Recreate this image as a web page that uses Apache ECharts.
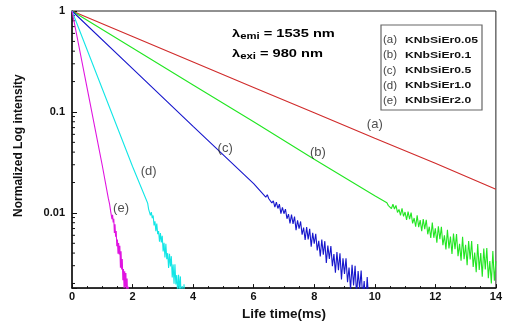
<!DOCTYPE html>
<html>
<head>
<meta charset="utf-8">
<script src="https://cdn.jsdelivr.net/npm/echarts@6/dist/echarts.min.js"></script>
<style>
html, body { margin: 0; padding: 0; background: #fff; }
#main { width: 505px; height: 326px; }
</style>
</head>
<body>
<div id="main"></div>
<script>
// decay curves, [time ms, normalized intensity]
var lineA = [[0, 1], [2, 0.56], [4, 0.313], [6, 0.175], [8, 0.098], [10, 0.055], [12, 0.031], [14, 0.0172]];

var lineB = [[0, 1], [2, 0.43], [4, 0.185], [6, 0.080], [8, 0.034], [10, 0.0148]];
// noisy tail of (b)
var tailB = [[10.40, 0.01259], [10.45, 0.01181], [10.50, 0.01232], [10.55, 0.01105], [10.60, 0.01218], [10.65, 0.01094],
  [10.70, 0.01188], [10.75, 0.01010], [10.80, 0.01083], [10.85, 0.00945], [10.90, 0.01112], [10.95, 0.00925],
  [11.00, 0.01021], [11.05, 0.00852], [11.10, 0.01030], [11.15, 0.00869], [11.20, 0.01008], [11.25, 0.00789],
  [11.30, 0.00890], [11.35, 0.00729], [11.40, 0.00945], [11.45, 0.00724], [11.50, 0.00848], [11.55, 0.00658],
  [11.60, 0.00870], [11.65, 0.00691], [11.70, 0.00856], [11.75, 0.00614], [11.80, 0.00730], [11.85, 0.00564],
  [11.90, 0.00804], [11.95, 0.00567], [12.00, 0.00704], [12.05, 0.00508], [12.10, 0.00737], [12.15, 0.00549],
  [12.20, 0.00728], [12.25, 0.00479], [12.30, 0.00601], [12.35, 0.00435], [12.40, 0.00682], [12.45, 0.00445],
  [12.50, 0.00584], [12.55, 0.00392], [12.60, 0.00623], [12.65, 0.00436], [12.70, 0.00619], [12.75, 0.00373],
  [12.80, 0.00493], [12.85, 0.00336], [12.90, 0.00579], [12.95, 0.00348], [13.00, 0.00484], [13.05, 0.00303],
  [13.10, 0.00527], [13.15, 0.00346], [13.20, 0.00526], [13.25, 0.00291], [13.30, 0.00406], [13.35, 0.00259],
  [13.40, 0.00493], [13.45, 0.00272], [13.50, 0.00401], [13.55, 0.00234], [13.60, 0.00445], [13.65, 0.00275],
  [13.70, 0.00448], [13.75, 0.00226], [13.80, 0.00333], [13.85, 0.00200], [13.90, 0.00419], [13.95, 0.00213],
  [14.00, 0.00333]];

var lineC = [[0, 1], [2, 0.269], [4, 0.072], [6, 0.0195]];
var tailC = [[6.40, 0.01432], [6.45, 0.01512], [6.50, 0.01381], [6.55, 0.01443], [6.60, 0.01257], [6.65, 0.01318],
  [6.70, 0.01143], [6.75, 0.01280], [6.80, 0.01107], [6.85, 0.01220], [6.90, 0.00985], [6.95, 0.01132],
  [7.00, 0.00982], [7.05, 0.01092], [7.10, 0.00876], [7.15, 0.00972], [7.20, 0.00786], [7.25, 0.00963],
  [7.30, 0.00778], [7.35, 0.00921], [7.40, 0.00676], [7.45, 0.00846], [7.50, 0.00697], [7.55, 0.00823],
  [7.60, 0.00610], [7.65, 0.00717], [7.70, 0.00539], [7.75, 0.00723], [7.80, 0.00547], [7.85, 0.00695],
  [7.90, 0.00464], [7.95, 0.00634], [8.00, 0.00495], [8.05, 0.00622], [8.10, 0.00425], [8.15, 0.00529],
  [8.20, 0.00370], [8.25, 0.00545], [8.30, 0.00385], [8.35, 0.00525], [8.40, 0.00319], [8.45, 0.00474],
  [8.50, 0.00351], [8.55, 0.00470], [8.60, 0.00296], [8.65, 0.00391], [8.70, 0.00255], [8.75, 0.00409],
  [8.80, 0.00271], [8.85, 0.00398], [8.90, 0.00219], [8.95, 0.00355], [9.00, 0.00249], [9.05, 0.00355],
  [9.10, 0.00206], [9.15, 0.00288], [9.20, 0.00175], [9.25, 0.00307], [9.30, 0.00191], [9.35, 0.00300],
  [9.40, 0.00151], [9.45, 0.00266], [9.50, 0.00177], [9.55, 0.00268], [9.60, 0.00144], [9.65, 0.00212],
  [9.70, 0.00120], [9.75, 0.00232], [9.80, 0.00134]];

var lineD = [[0, 1], [1, 0.17], [2, 0.0288]];
var tailD = [[2.50, 0.01245], [2.53, 0.01092], [2.56, 0.01095], [2.59, 0.00947], [2.62, 0.01020], [2.65, 0.00889],
  [2.68, 0.00942], [2.71, 0.00752], [2.74, 0.00824], [2.77, 0.00659], [2.80, 0.00784], [2.83, 0.00616],
  [2.86, 0.00661], [2.89, 0.00520], [2.92, 0.00633], [2.95, 0.00511], [2.98, 0.00594], [3.01, 0.00415],
  [3.04, 0.00505], [3.07, 0.00362], [3.10, 0.00494], [3.13, 0.00348], [3.16, 0.00399], [3.19, 0.00285],
  [3.22, 0.00393], [3.25, 0.00295], [3.28, 0.00373], [3.31, 0.00229], [3.34, 0.00309], [3.37, 0.00199],
  [3.40, 0.00310], [3.43, 0.00196], [3.46, 0.00242], [3.49, 0.00156], [3.52, 0.00244], [3.55, 0.00170],
  [3.58, 0.00235], [3.61, 0.00126], [3.64, 0.00189], [3.67, 0.00109], [3.70, 0.00196], [3.73, 0.00110],
  [3.76, 0.00145], [3.79, 0.00086]];

var lineE = [[0, 1], [0.5, 0.172], [1.0, 0.0295]];
var tailE = [[1.20, 0.01393], [1.22, 0.01437], [1.24, 0.01229], [1.26, 0.01252], [1.28, 0.01025], [1.30, 0.01063],
  [1.32, 0.00869], [1.34, 0.00960], [1.36, 0.00804], [1.38, 0.00876], [1.40, 0.00632], [1.42, 0.00773],
  [1.44, 0.00582], [1.46, 0.00662], [1.48, 0.00468], [1.50, 0.00544], [1.52, 0.00394], [1.54, 0.00504],
  [1.56, 0.00387], [1.58, 0.00472], [1.60, 0.00287], [1.62, 0.00416], [1.64, 0.00276], [1.66, 0.00350],
  [1.68, 0.00215], [1.70, 0.00278], [1.72, 0.00179], [1.74, 0.00264], [1.76, 0.00186], [1.78, 0.00254],
  [1.80, 0.00130], [1.82, 0.00224], [1.84, 0.00130], [1.86, 0.00186], [1.88, 0.00098]];

// curve tags
var curveTags = [[10.0, 0.0748, '(a)'], [8.12, 0.040, '(b)'], [5.06, 0.0437, '(c)'], [2.53, 0.0256, '(d)'], [1.62, 0.0112, '(e)']];

var legendNames = [['(a)', 'KNbSiEr0.05'], ['(b)', 'KNbSiEr0.1'], ['(c)', 'KNbSiEr0.5'], ['(d)', 'KNbSiEr1.0'], ['(e)', 'KNbSiEr2.0']];

var yMinorTicks = [0.002, 0.003, 0.004, 0.005, 0.006, 0.007, 0.008, 0.009,
  0.02, 0.03, 0.04, 0.05, 0.06, 0.07, 0.08, 0.09,
  0.2, 0.3, 0.4, 0.5, 0.6, 0.7, 0.8, 0.9];

var FONT = 'Arial, sans-serif';
var WIDE = 1.28; // the source figure is stretched sideways

var chart = echarts.init(document.getElementById('main'));

function decay(data, color) {
  return {
    type: 'line',
    data: data,
    symbol: 'none',
    lineStyle: { color: color, width: 1.1 },
    animation: false
  };
}

var legendTexts = [];
legendNames.forEach(function (n, i) {
  legendTexts.push({
    type: 'text', left: 383, top: 34 + i * 15.2,
    style: { text: n[0], font: '11.5px Arial, sans-serif', fill: '#444' }
  });
  legendTexts.push({
    type: 'text', left: 405, top: 35 + i * 15.2, scaleX: WIDE,
    style: { text: n[1], font: 'bold 9.5px Arial, sans-serif', fill: '#111' }
  });
});

function lambdaText(top, sub, rest) {
  return {
    type: 'text', left: 232, top: top, scaleX: 1.33,
    style: {
      text: '{l|λ}{s|' + sub + '}{l|' + rest + '}',
      rich: {
        l: { fontFamily: FONT, fontSize: 11, fontWeight: 'bold', color: '#111', lineHeight: 15 },
        s: { fontFamily: FONT, fontSize: 8.5, fontWeight: 'bold', color: '#111', verticalAlign: 'bottom', lineHeight: 15 }
      }
    }
  };
}

var option = {
  backgroundColor: '#fff',
  animation: false,
  grid: { left: 72, right: 2, top: 11, bottom: 31, show: true, borderColor: '#222', borderWidth: 1 },
  xAxis: {
    type: 'value',
    min: 0, max: 14, interval: 2,
    name: 'Life time(ms)',
    nameLocation: 'middle',
    nameGap: 16,
    nameTextStyle: { fontFamily: FONT, fontSize: 13.5, fontWeight: 'bold', color: '#111', verticalAlign: 'top' },
    axisLine: { lineStyle: { color: '#111', width: 1.5 } },
    axisTick: { inside: true, length: 4, lineStyle: { color: '#111' } },
    minorTick: { show: true, splitNumber: 4, length: 2, lineStyle: { color: '#111' } },
    axisLabel: { fontFamily: FONT, fontSize: 11, fontWeight: 'bold', color: '#111', margin: 3 },
    splitLine: { show: false }
  },
  yAxis: {
    type: 'log',
    logBase: 10,
    min: 0.0018, max: 1,
    name: 'Normalized Log intensity',
    nameLocation: 'middle',
    nameGap: 47,
    nameTextStyle: { fontFamily: FONT, fontSize: 12, fontWeight: 'bold', color: '#111', padding: [0, 0, 0, 8] },
    axisLine: { lineStyle: { color: '#111', width: 1.5 } },
    axisTick: { inside: true, length: 5, lineStyle: { color: '#111' } },
    axisLabel: {
      fontFamily: FONT, fontSize: 11, fontWeight: 'bold', color: '#111', margin: 7,
      formatter: function (v) {
        var l = Math.log10(v);
        return Math.abs(l - Math.round(l)) < 1e-6 ? String(+v.toPrecision(3)) : '';
      }
    },
    splitLine: { show: false }
  },
  graphic: [
    {
      type: 'rect',
      shape: { x: 381, y: 25, width: 101, height: 85 },
      style: { fill: '#fff', stroke: '#666', lineWidth: 1.2 }
    },
    lambdaText(28, 'emi', ' = 1535 nm'),
    lambdaText(48.5, 'exi', ' = 980 nm')
  ].concat(legendTexts),
  series: [
    decay(lineA, '#d02a2a'),
    decay(lineB.concat(tailB), '#22e622'),
    decay(lineC.concat(tailC), '#1616cc'),
    decay(lineD.concat(tailD), '#12e6e6'),
    decay(lineE.concat(tailE), '#e014e0'),
    {
      type: 'scatter',
      data: curveTags,
      symbolSize: 1,
      itemStyle: { color: 'transparent' },
      label: {
        show: true, position: 'inside',
        fontFamily: FONT, fontSize: 13, color: '#222',
        formatter: function (p) { return p.data[2]; }
      },
      z: 5
    },
    {
      type: 'custom',
      data: yMinorTicks.map(function (v) { return [0, v]; }),
      clip: false,
      renderItem: function (params, api) {
        var p = api.coord([api.value(0), api.value(1)]);
        return {
          type: 'line',
          shape: { x1: p[0], y1: p[1], x2: p[0] + 3, y2: p[1] },
          style: { stroke: '#111', lineWidth: 1 }
        };
      }
    }
  ]
};

chart.setOption(option);
</script>
</body>
</html>
